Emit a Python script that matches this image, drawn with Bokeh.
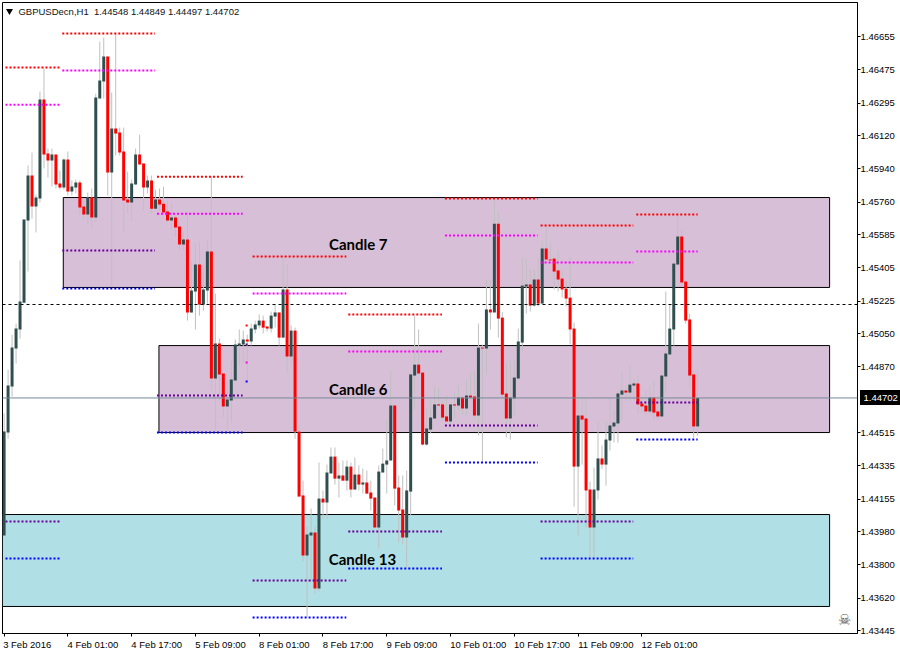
from bokeh.plotting import figure
from bokeh.models import FixedTicker, LinearAxis, PrintfTickFormatter, Span, ColumnDataSource
from bokeh.core.properties import value
from bokeh.embed import file_html
from bokeh.resources import INLINE

# OHLC values in points (1 point = 0.00001)
opens = [143958,144515,144764,144969,145072,145217,145661,145904,145737,145780,146315,146023,145985,146017,145861,145839,145990,145817,145839,145866,145737,145693,145785,145677,146320,146412,146547,145920,146158,146136,146034,145774,145758,145855,146017,145969,145839,145877,145725,145774,145752,145709,145661,145677,145628,145531,145558,145164,145277,145423,145207,145282,145493,144807,144996,144834,144656,144688,144796,144985,144991,145018,145007,145072,145094,145120,145088,145077,145142,145164,145028,145288,144926,145066,144520,144175,143850,143958,143975,143672,144158,144137,144294,144385,144266,144283,144255,144331,144207,144288,144234,144245,144191,144164,144002,144299,144342,144364,144661,144218,144099,143948,144196,144823,144882,144839,144450,144531,144591,144667,144667,144602,144575,144667,144661,144704,144645,144715,144710,144607,144974,144969,145180,145164,145644,145136,144726,144591,144699,144807,145001,145304,145315,145201,145342,145212,145509,145450,145455,145391,145347,145293,145244,145077,144331,144607,144591,144207,144002,144202,144375,144342,144472,144548,144564,144720,144742,144731,144769,144780,144672,144661,144629,144704,144629,144602,144818,144937,145072,145423,145574,145331,145126,144829,144548]
highs = [144618,144855,145044,145104,145445,145666,145958,146028,145801,146358,146482,146050,146050,146017,145931,145996,146034,145877,145882,145877,145769,145812,145834,146347,146628,146650,146547,146352,146671,146163,146163,145925,145882,146050,146125,145969,145904,145904,145828,145834,145844,145769,145758,145688,145650,145596,145715,145445,145542,145547,145423,145553,145898,145266,145023,144834,144796,144904,145018,145072,145066,145044,145104,145120,145153,145147,145088,145169,145207,145164,145461,145423,145094,145082,144553,144255,144007,144104,144007,144353,144202,144342,144434,144434,144353,144364,144364,144353,144380,144337,144320,144310,144255,144164,144337,144429,144580,144850,144672,144283,144283,144310,144850,145147,145072,144839,144645,144688,144764,144758,144688,144715,144667,144731,144769,144715,144796,144834,144850,145104,144991,145342,145342,145769,145709,145164,144888,144904,144910,145077,145461,145461,145396,145396,145461,145547,145628,145542,145455,145499,145391,145336,145461,145110,144726,144704,144704,144250,144326,144575,144445,144575,144704,144634,144742,144845,144769,144877,144807,144823,144715,144742,144769,144796,144715,144850,145277,145207,145428,145688,145617,145331,145158,144850,144849]
lows = [143958,144482,144710,144888,145023,145217,145385,145671,145596,145758,145942,145893,145844,145834,145828,145828,145796,145796,145807,145693,145671,145644,145617,145650,146320,146320,145796,145309,146012,146012,145601,145698,145655,145855,145963,145715,145807,145698,145725,145709,145688,145650,145612,145574,145504,145504,145120,145164,145072,145147,145174,145212,144742,144526,144688,144596,144526,144569,144796,144872,144893,144791,144985,145050,145077,145050,145061,145055,145082,144985,145028,144834,144877,144482,144169,143818,143515,143710,143645,143656,144050,144050,144294,144234,144164,144255,144202,144164,144207,144202,144185,144185,144094,144002,143888,144299,144185,144364,144121,143920,143910,143785,144066,144634,144834,144445,144445,144510,144591,144661,144580,144575,144553,144591,144634,144612,144607,144688,144591,144499,144358,144829,145072,145164,145028,144699,144488,144477,144607,144807,144958,145158,145169,145196,145196,145212,145450,145439,145288,145277,145244,145196,144991,144115,143958,144342,144002,143834,143840,144153,144320,144228,144418,144461,144461,144580,144688,144688,144688,144612,144623,144612,144612,144580,144580,144602,144720,144937,144985,145423,145326,145104,144758,144488,144497]
closes = [144520,144769,144974,145077,145223,145666,145904,145737,145785,146315,146017,145985,146017,145855,145839,145990,145817,145844,145866,145731,145693,145785,145677,146325,146417,146547,145920,146158,146131,146028,145769,145758,145861,146017,145963,145839,145877,145725,145774,145747,145704,145661,145677,145623,145531,145558,145164,145282,145423,145207,145288,145493,144807,144996,144829,144656,144693,144801,144991,144996,145018,145007,145077,145099,145120,145082,145077,145147,145164,145028,145288,144926,145066,144520,144169,143850,143964,143975,143672,144158,144137,144299,144385,144266,144283,144255,144331,144207,144288,144234,144245,144185,144158,144002,144304,144347,144364,144661,144212,144094,143948,144202,144829,144882,144834,144450,144537,144596,144667,144661,144596,144575,144667,144661,144704,144645,144715,144704,144607,144974,144969,145180,145164,145644,145131,144720,144591,144704,144812,145007,145309,145315,145201,145342,145212,145509,145450,145445,145385,145342,145288,145239,145072,144331,144607,144585,144202,144002,144207,144375,144342,144477,144553,144569,144726,144742,144731,144774,144780,144667,144656,144629,144704,144623,144602,144823,144942,145077,145428,145574,145326,145120,144823,144548,144702]

x_ticks = [0, 16, 32, 48, 64, 80, 96, 112, 128, 144, 160]
x_labels = ["3 Feb 2016", "4 Feb 01:00", "4 Feb 17:00", "5 Feb 09:00", "8 Feb 01:00", "8 Feb 17:00",
            "9 Feb 09:00", "10 Feb 01:00", "10 Feb 17:00", "11 Feb 09:00", "12 Feb 01:00"]
y_ticks = [1.46655, 1.46475, 1.46295, 1.46120, 1.45940, 1.45760, 1.45585, 1.45405, 1.45225, 1.45050,
           1.44870, 1.44515, 1.44335, 1.44155, 1.43980, 1.43800, 1.43620, 1.43445]

# supply / demand zones
zone_left = [14.85, 38.85, -0.4]
zone_right = [207.1, 207.1, 207.1]
zone_top = [1.45785, 1.44985, 1.44072]
zone_bottom = [1.45299, 1.44515, 1.43575]
zone_fill = ["#d8bfd8", "#d8bfd8", "#b0e0e6"]
zone_names = ["Candle 7", "Candle 6", "Candle 13"]
zone_name_x = [88.85, 88.85, 89.9]
zone_name_y = [1.45536, 1.44753, 1.43834]

# daily pivot levels
lev_start = [0.35, 14.6, 38.35, 60.6, 62.35, 86.35, 110.6, 134.6, 158.6]
lev_end = [14.1, 37.85, 59.85, 61.6, 85.85, 109.85, 133.85, 157.85, 174.0]
lev_red = [1.46488, 1.46671, 1.45898, 1.45094, 1.45466, 1.45153, 1.45780, 1.45634, 1.45693]
lev_magenta = [1.46287, 1.46471, 1.45698, 1.44893, 1.45266, 1.44953, 1.45580, 1.45434, 1.45493]
lev_purple = [1.44034, 1.45499, 1.44715, 1.44991, 1.43715, 1.43980, 1.44553, 1.44034, 1.44677]
lev_blue = [1.43834, 1.45293, 1.44515, 1.44791, 1.43515, 1.43780, 1.44353, 1.43834, 1.44477]

bid = 1.44702
dashed_level = 1.45207
title = "GBPUSDecn,H1 \u00a01.44548 1.44849 1.44497 1.44702"

FONT = "Liberation Sans"
idx = list(range(len(opens)))
o = [v / 1e5 for v in opens]
h = [v / 1e5 for v in highs]
l = [v / 1e5 for v in lows]
c = [v / 1e5 for v in closes]
up = ColumnDataSource(dict(x=[i for i in idx if c[i] >= o[i]],
                           b=[o[i] for i in idx if c[i] >= o[i]],
                           t=[c[i] for i in idx if c[i] >= o[i]]))
dn = ColumnDataSource(dict(x=[i for i in idx if c[i] < o[i]],
                           b=[c[i] for i in idx if c[i] < o[i]],
                           t=[o[i] for i in idx if c[i] < o[i]]))

p = figure(width=900, height=654, output_backend="svg", toolbar_location=None,
           x_range=(-0.4, 214.1), y_range=(1.43429, 1.46839), y_axis_location="right",
           min_border_left=2, min_border_top=2, min_border_right=40, min_border_bottom=21)
p.background_fill_color = "white"
p.border_fill_color = "white"
p.grid.visible = False
p.outline_line_color = "black"
p.outline_line_width = 1

# the labels start at their tick: leading no-break spaces balance the centred text
pad = {0: 1, 10: 18, 11: 19, 12: 21}
ax = p.xaxis[0]
ax.ticker = FixedTicker(ticks=x_ticks)
ax.major_label_overrides = {t: "\u00a0" * pad[len(s) if t else 0] + s for t, s in zip(x_ticks, x_labels)}
ay = p.yaxis[0]
ay.ticker = FixedTicker(ticks=y_ticks)
ay.formatter = PrintfTickFormatter(format="%.5f")
for a in (ax, ay):
    a.minor_tick_line_color = None
    a.major_tick_in = 0
    a.major_tick_out = 3
    a.major_tick_line_color = "black"
    a.axis_line_color = "black"
    a.major_label_text_font = FONT
    a.major_label_text_font_size = "9.5px"
    a.major_label_text_color = "black"
    a.major_label_standoff = 2
ay.major_label_standoff = 0

# the bid flag: an outer axis with one tick whose mark runs back inward as a black bar
bid_axis = LinearAxis(ticker=FixedTicker(ticks=[bid]), formatter=PrintfTickFormatter(format="%.5f"),
                      axis_line_color=None, minor_tick_line_color=None,
                      major_tick_in=30, major_tick_out=0, major_tick_line_color="black",
                      major_tick_line_width=15, major_tick_line_cap="square", major_label_standoff=-34,
                      major_label_text_font=FONT, major_label_text_font_size="9.5px",
                      major_label_text_color="white")
p.add_layout(bid_axis, "right")

p.quad(left=zone_left, right=zone_right, top=zone_top, bottom=zone_bottom,
       fill_color=zone_fill, line_color="black", line_width=1)
p.add_layout(Span(location=bid, dimension="width", line_color="#778899", line_width=1))
p.add_layout(Span(location=dashed_level, dimension="width", line_color="black", line_width=1, line_dash="3 3"))

p.segment(x0=idx, x1=idx, y0=l, y1=h, line_color="#c0c0c0", line_width=1)
p.vbar(x="x", bottom="b", top="t", width=0.75, source=up, fill_color="#2f4f4f", line_color=None)
p.vbar(x="x", bottom="b", top="t", width=0.75, source=dn, fill_color="#ff0000", line_color=None)

for ys, col in ((lev_red, "#ff0000"), (lev_magenta, "#ff00ff"), (lev_purple, "#660099"), (lev_blue, "#0000ff")):
    p.segment(x0=lev_start, x1=lev_end, y0=ys, y1=ys, line_color=col, line_width=2, line_dash="2 2")

p.text(x=zone_name_x, y=zone_name_y, text=zone_names, text_align="center", text_baseline="middle",
       text_font=value("Lato"), text_font_style="bold", text_font_size="15px", text_color="black")
p.text(x=[3.6], y=[1.46793], text=[title], text_align="left", text_baseline="middle",
       text_font=value(FONT), text_font_size="9.5px", text_color="#111111")
p.scatter(x=[1.35], y=[1.46793], marker="inverted_triangle", size=7, fill_color="black", line_color=None)
p.text(x=[210.85], y=[1.43504], text=["\u2620"], text_align="center", text_baseline="middle",
       text_font=value("DejaVu Sans"), text_font_size="15px", text_color="#555555")

open("out.html", "w").write(file_html(p, INLINE))
